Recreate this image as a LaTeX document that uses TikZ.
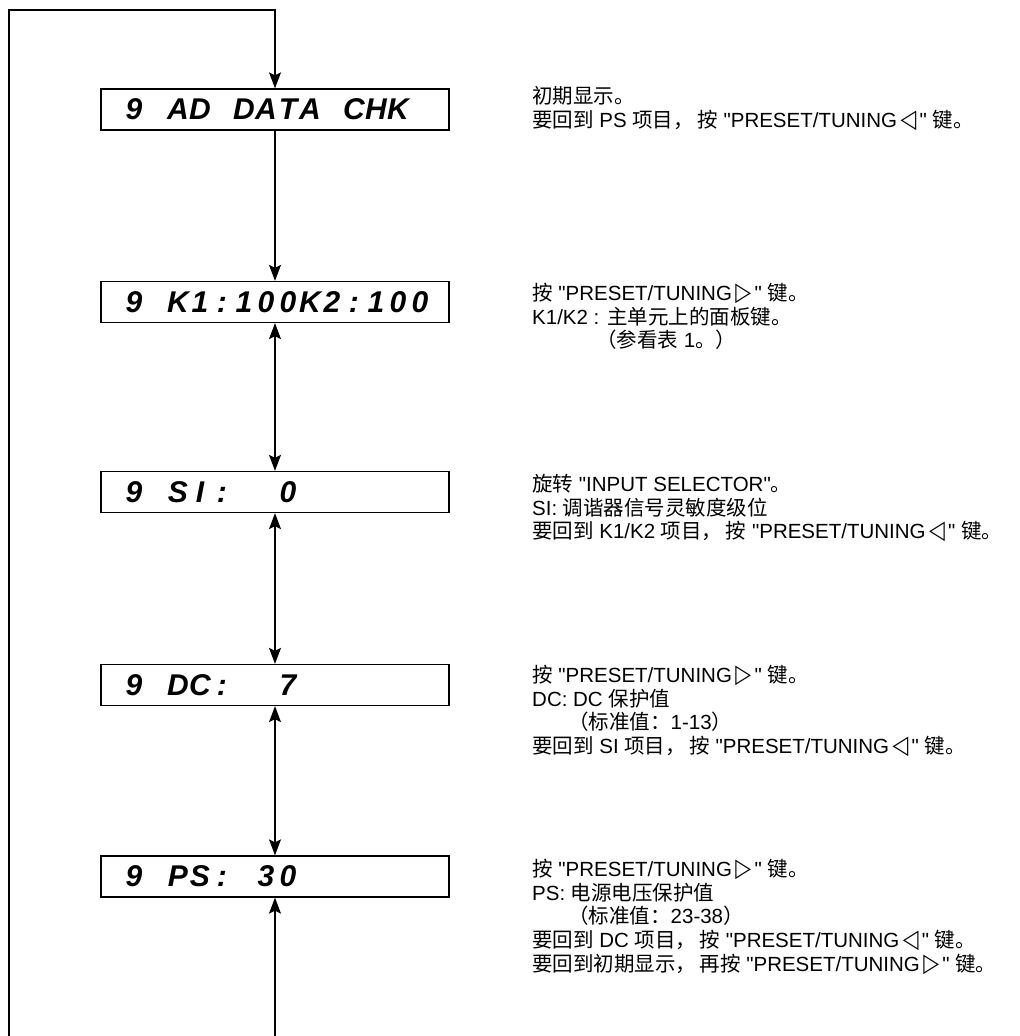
\documentclass[tikz,border=0pt]{standalone}
\usepackage{graphicx}
\usepackage{fontspec}
\setmainfont{Liberation Sans}[Ligatures=TeXOff]
\newfontfamily\zhfont{Noto Sans CJK SC}
\newfontfamily\symfont{DejaVu Sans}
\usetikzlibrary{arrows.meta}

\newcommand\zh[1]{{\zhfont #1}}
\newcommand\keyleft{\,\smash{\scalebox{1}[1.25]{\symfont ◁}}\,}
\newcommand\keyright{\,\smash{\scalebox{1}[1.25]{\symfont ▷}}\,}
\makeatletter
\newcommand\lcd[1]{\makebox[348bp][l]{\@tfor\lcdch:=#1\do{\makebox[22bp][c]{\lcdch}}}}
\makeatother

\tikzset{
  display/.style={draw, line width=1.3bp, inner sep=0pt, minimum height=41bp,
    font=\fontsize{30bp}{36bp}\selectfont\bfseries\itshape},
  note/.style={anchor=north west, inner sep=0pt, align=left,
    font=\fontsize{20.5bp}{23.7bp}\selectfont},
  link/.style={line width=1.3bp, -{Stealth[length=16bp,width=12bp,inset=3bp]}},
  twoway/.style={line width=1.3bp,
    {Stealth[length=16bp,width=12bp,inset=3bp]}-{Stealth[length=16bp,width=12bp,inset=3bp]}},
}

\begin{document}
\begin{tikzpicture}[x=1bp, y=-1bp]
    \useasboundingbox (0,0) rectangle (1020,1036);
    % displays
    \node[display] (ad) at (275,109.5) {\lcd{~9~AD~DATA~CHK}};
    \node[display] (key) at (275,302) {\lcd{~9~K1:100K2:100}};
    \node[display] (si) at (275,492) {\lcd{~9~SI:~~0}};
    \node[display] (dc) at (275,685) {\lcd{~9~DC:~~7}};
    \node[display] (ps) at (275,876.5) {\lcd{~9~PS:~30}};

    % loop back to the start
    \coordinate (loopbot) at (9,1045);
    \coordinate (looptop) at (9,10);
    \coordinate (feed) at (275,1045);
    \draw[link] (loopbot) -- (looptop) -| (ad.north);
    \draw[link] (ad) -- (key);
    \draw[twoway] (key) -- (si);
    \draw[twoway] (si) -- (dc);
    \draw[twoway] (dc) -- (ps);
    \draw[link] (feed) -- (ps);

    % notes
    \node[note] (adtxt) at (532,86) {\zh{初期显示。}\\
      \zh{要回到} PS \zh{项目，}\,\zh{按} "PRESET/TUNING\keyleft" \zh{键。}};
    \node[note] (keytxt) at (532,283) {\zh{按} "PRESET/TUNING\keyright" \zh{键。}\\
      K1/K2 : \zh{主单元上的面板键。}\\
      \hspace*{64bp}\zh{（参看表} 1\zh{。）}};
    \node[note] (sitxt) at (532,474) {\zh{旋转} "INPUT SELECTOR"\zh{。}\\
      SI: \zh{调谐器信号灵敏度级位}\\
      \zh{要回到} K1/K2 \zh{项目，}\,\zh{按} "PRESET/TUNING\keyleft" \zh{键。}};
    \node[note] (dctxt) at (532,665) {\zh{按} "PRESET/TUNING\keyright" \zh{键。}\\
      DC: DC \zh{保护值}\\
      \hspace*{36bp}\zh{（标准值：}1-13\zh{）}\\
      \zh{要回到} SI \zh{项目，}\,\zh{按} "PRESET/TUNING\keyleft" \zh{键。}};
    \node[note] (pstxt) at (532,859) {\zh{按} "PRESET/TUNING\keyright" \zh{键。}\\
      PS: \zh{电源电压保护值}\\
      \hspace*{36bp}\zh{（标准值：}23-38\zh{）}\\
      \zh{要回到} DC \zh{项目，}\,\zh{按} "PRESET/TUNING\keyleft" \zh{键。}\\
      \zh{要回到初期显示，}\,\zh{再按} "PRESET/TUNING\keyright" \zh{键。}};
\end{tikzpicture}
\end{document}
